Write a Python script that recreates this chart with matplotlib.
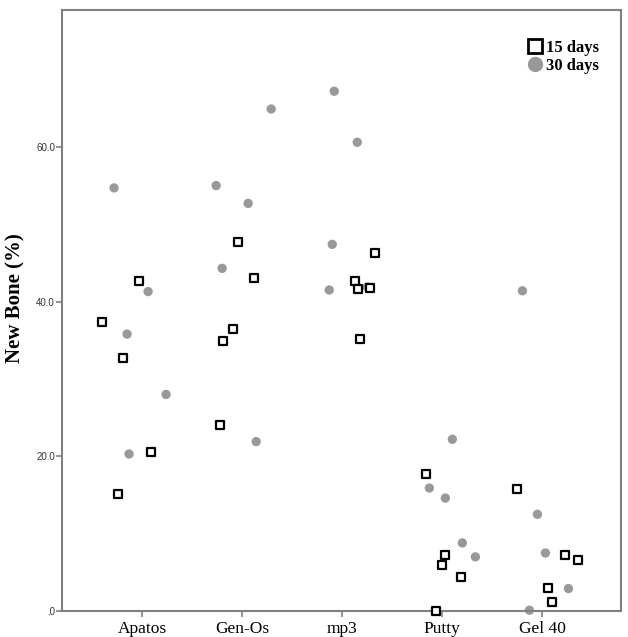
import matplotlib
matplotlib.use("Agg")
import matplotlib.pyplot as plt
from matplotlib.lines import Line2D

categories = ["Apatos", "Gen-Os", "mp3", "Putty", "Gel 40"]

# 15 days (squares): values per category and horizontal jitter
d15_values = [
    [37.4, 42.6, 32.7, 20.5, 15.1],
    [47.7, 43.1, 36.5, 34.9, 24.1],
    [46.3, 42.7, 41.6, 41.8, 35.2],
    [17.7, 7.2, 5.9, 4.4, 0.0],
    [15.8, 7.3, 6.6, 3.0, 1.1],
]
d15_jitter = [
    [-0.40, -0.03, -0.19, 0.09, -0.24],
    [-0.04, 0.12, -0.09, -0.19, -0.22],
    [0.33, 0.13, 0.16, 0.28, 0.18],
    [-0.16, 0.03, 0.00, 0.19, -0.06],
    [-0.25, 0.23, 0.36, 0.06, 0.10],
]

# 30 days (circles)
d30_values = [
    [54.7, 41.3, 35.8, 28.0, 20.3],
    [55.0, 52.7, 44.3, 21.9, 64.9],
    [67.2, 60.6, 47.4, 41.5, 41.9],
    [22.2, 15.9, 14.6, 8.8, 7.0],
    [41.4, 12.5, 7.5, 2.9, 0.1],
]
d30_jitter = [
    [-0.28, 0.06, -0.15, 0.24, -0.13],
    [-0.26, 0.06, -0.20, 0.14, 0.29],
    [-0.08, 0.15, -0.10, -0.13, 0.25],
    [0.10, -0.13, 0.03, 0.20, 0.33],
    [-0.20, -0.05, 0.03, 0.26, -0.13],
]

y_ticks = [0, 20, 40, 60]
y_tick_labels = [".0", "20.0", "40.0", "60.0"]

fig = plt.figure(figsize=(6.28, 6.37), dpi=100)
ax = fig.add_axes([62 / 628, 26 / 637, 559 / 628, 601 / 637])

serif = ["Liberation Serif", "DejaVu Serif"]
gray = "#999999"

for i in range(len(categories)):
    xs30 = [i + j for j in d30_jitter[i]]
    ax.scatter(xs30, d30_values[i], s=45, marker="o", color=gray,
               edgecolors="none", zorder=2, clip_on=False)
    xs15 = [i + j for j in d15_jitter[i]]
    ax.scatter(xs15, d15_values[i], s=30, marker="s", facecolor="white",
               edgecolors="black", linewidths=1.6, zorder=3, clip_on=False)

ax.set_xlim(-0.8, 4.785)
ax.set_ylim(0, 77.7)
ax.set_xticks(range(len(categories)))
ax.set_xticklabels(categories, fontfamily=serif, fontsize=12.5)
ax.set_yticks(y_ticks)
ax.set_yticklabels(y_tick_labels, fontfamily=["Liberation Sans", "DejaVu Sans"],
                   fontsize=7, color="#333333")
ax.tick_params(axis="both", direction="out", length=4, width=1.2, color="#808080")
ax.tick_params(axis="x", pad=3)
ax.tick_params(axis="y", pad=1)
for sp in ax.spines.values():
    sp.set_color("#808080")
    sp.set_linewidth(1.5)

ax.set_ylabel("New Bone (%)", fontfamily=serif, fontsize=15, fontweight="bold")
ax.yaxis.set_label_coords(-37 / 559, 0.52)

handles = [
    Line2D([], [], marker="s", linestyle="none", markersize=10,
           markerfacecolor="white", markeredgecolor="black", markeredgewidth=2),
    Line2D([], [], marker="o", linestyle="none", markersize=11,
           markerfacecolor=gray, markeredgecolor="none"),
]
leg = ax.legend(handles, ["15 days", "30 days"], loc="upper right",
                bbox_to_anchor=(0.982, 0.97), frameon=False,
                prop={"family": serif, "weight": "bold", "size": 12},
                handletextpad=0.15, labelspacing=0.15, handlelength=1.0,
                borderaxespad=0.3)

fig.savefig("out.png", dpi=100)
